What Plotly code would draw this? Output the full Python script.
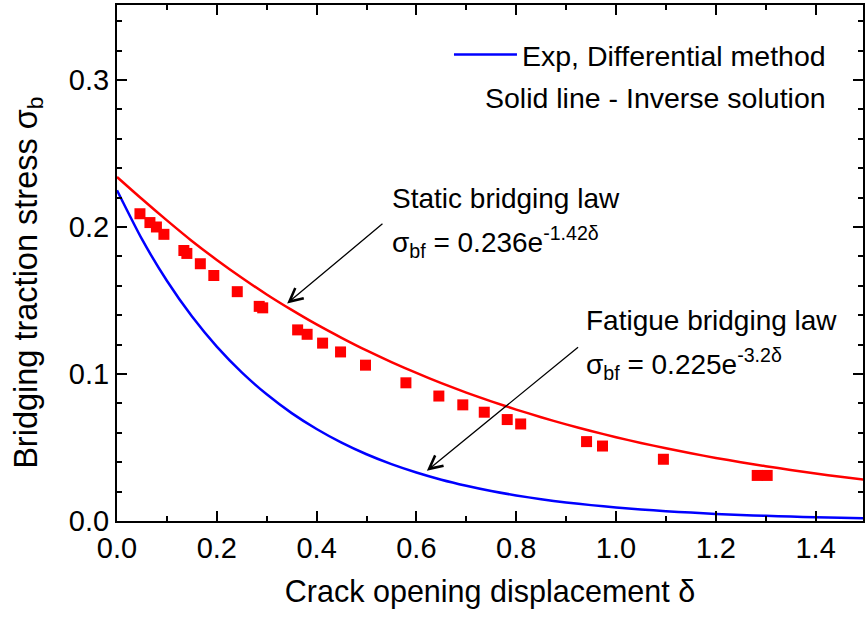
import plotly.graph_objects as go

# ---- data ----
exp_x = [0.046, 0.066, 0.079, 0.094, 0.134, 0.140, 0.167, 0.194, 0.241, 0.285, 0.292,
         0.362, 0.381, 0.412, 0.448, 0.498, 0.579, 0.645, 0.693, 0.736, 0.782, 0.809,
         0.941, 0.973, 1.095, 1.283, 1.303]
exp_y = [0.209, 0.203, 0.200, 0.195, 0.184, 0.182, 0.175, 0.167, 0.156, 0.146, 0.145,
         0.130, 0.127, 0.121, 0.115, 0.106, 0.094, 0.085, 0.079, 0.074, 0.069, 0.066,
         0.054, 0.051, 0.042, 0.031, 0.031]

curve_x = [0.0, 0.05, 0.1, 0.15, 0.2, 0.25, 0.3, 0.35, 0.4, 0.45, 0.5, 0.55, 0.6, 0.65,
           0.7, 0.75, 0.8, 0.85, 0.9, 0.95, 1.0, 1.05, 1.1, 1.15, 1.2, 1.25, 1.3, 1.35,
           1.4, 1.45, 1.5]
static_y = [0.2340, 0.2190, 0.2045, 0.1905, 0.1776, 0.1655, 0.1541, 0.1436, 0.1337, 0.1246,
            0.1160, 0.1081, 0.1007, 0.0938, 0.0873, 0.0814, 0.0758, 0.0706, 0.0657, 0.0612,
            0.0570, 0.0531, 0.0495, 0.0461, 0.0429, 0.0400, 0.0373, 0.0347, 0.0323, 0.0301,
            0.0280]
fatigue_y = [0.2250, 0.1917, 0.1634, 0.1392, 0.1186, 0.1011, 0.0862, 0.0734, 0.0626, 0.0533,
             0.0454, 0.0387, 0.0330, 0.0281, 0.0240, 0.0204, 0.0174, 0.0148, 0.0126, 0.0108,
             0.0092, 0.0078, 0.0067, 0.0057, 0.0048, 0.0041, 0.0035, 0.0030, 0.0026, 0.0022,
             0.0019]

x_ticks = [0.0, 0.2, 0.4, 0.6, 0.8, 1.0, 1.2, 1.4]
y_ticks = [0.0, 0.1, 0.2, 0.3]

FONT = "Liberation Sans, Arial, sans-serif"

fig = go.Figure()
fig.add_trace(go.Scatter(x=curve_x, y=static_y, mode="lines",
                         line=dict(color="#ff0000", width=2.5, shape="spline", smoothing=0.6),
                         showlegend=False))
fig.add_trace(go.Scatter(x=curve_x, y=fatigue_y, mode="lines",
                         line=dict(color="#0000ff", width=2.5, shape="spline", smoothing=0.6),
                         name="Exp, Differential method", showlegend=True))
fig.add_trace(go.Scatter(x=exp_x, y=exp_y, mode="markers",
                         marker=dict(symbol="square", size=11, color="#ff0000", line=dict(width=0)),
                         showlegend=False))

axis_common = dict(showline=True, linecolor="black", linewidth=2, mirror="allticks",
                   ticks="inside", ticklen=10, tickwidth=2, tickcolor="black",
                   showgrid=False, zeroline=False,
                   tickfont=dict(family=FONT, size=29, color="black"),
                   minor=dict(ticks="inside", ticklen=5, tickwidth=1.5, tickcolor="black", showgrid=False))

fig.update_xaxes(range=[0, 1.495], tickvals=x_ticks, tickformat=".1f",
                 minor_dtick=0.1, minor_tick0=0,
                 title=dict(text="Crack opening displacement δ", font=dict(family=FONT, size=30.5, color="black"),
                            standoff=18),
                 **axis_common)
fig.update_yaxes(range=[0, 0.351], tickvals=y_ticks, tickformat=".1f",
                 minor_dtick=0.02, minor_tick0=0,
                 **axis_common)

# y-axis title placed as rotated text
fig.add_annotation(x=-0.119, y=0.462, xref="paper", yref="paper", xanchor="center", yanchor="middle",
                   textangle=-90, text="Bridging traction stress σ<sub>b</sub>", showarrow=False,
                   font=dict(family=FONT, size=32.5, color="black"))

ann_font = dict(family=FONT, size=28, color="black")
# arrows: tip (x, y) and tail (ax, ay) in data coordinates
fig.add_annotation(x=0.341, y=0.148, ax=0.535, ay=0.203, xref="x", yref="y", axref="x", ayref="y",
                   text="", showarrow=True, arrowhead=5, arrowsize=2, arrowwidth=1.3, arrowcolor="black")
fig.add_annotation(x=0.621, y=0.0342, ax=0.927, ay=0.119, xref="x", yref="y", axref="x", ayref="y",
                   text="", showarrow=True, arrowhead=5, arrowsize=2, arrowwidth=1.3, arrowcolor="black")

fig.add_annotation(x=0.548, y=0.2197, xref="x", yref="y", xanchor="left", yanchor="middle",
                   text="Static bridging law", showarrow=False, font=ann_font)
fig.add_annotation(x=0.548, y=0.190, xref="x", yref="y", xanchor="left", yanchor="middle",
                   text="σ<sub>bf</sub> = 0.236e<sup>-1.42δ</sup>", showarrow=False, font=ann_font)
fig.add_annotation(x=0.936, y=0.1367, xref="x", yref="y", xanchor="left", yanchor="middle",
                   text="Fatigue bridging law", showarrow=False, font=ann_font)
fig.add_annotation(x=0.936, y=0.107, xref="x", yref="y", xanchor="left", yanchor="middle",
                   text="σ<sub>bf</sub> = 0.225e<sup>-3.2δ</sup>", showarrow=False, font=ann_font)
fig.add_annotation(x=0.9535, y=0.820, xref="paper", yref="paper", xanchor="right", yanchor="middle",
                   text="Solid line - Inverse solution", showarrow=False, font=dict(family=FONT, size=28.5, color="black"))

fig.update_layout(
    width=865, height=624,
    margin=dict(l=117, r=0, t=5, b=103),
    paper_bgcolor="white", plot_bgcolor="white",
    legend=dict(x=0.445, y=0.903, xanchor="left", yanchor="middle", bgcolor="rgba(0,0,0,0)",
                font=dict(family=FONT, size=28.5, color="black"), itemwidth=63,
                tracegroupgap=0, borderwidth=0),
)

fig.write_html("out.html")
